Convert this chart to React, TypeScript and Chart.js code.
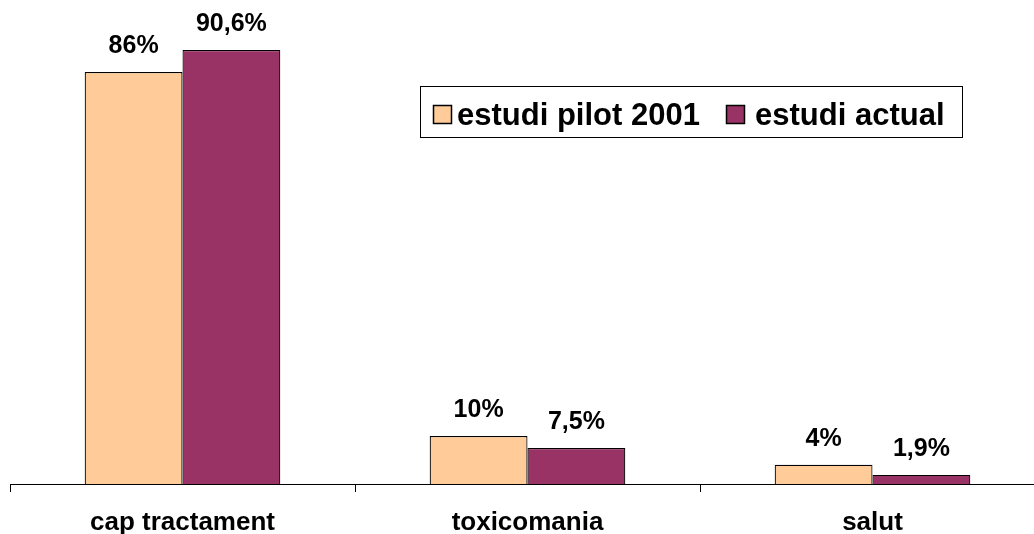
import React, { useEffect, useRef } from "react";
import { Chart, registerables } from "chart.js";

Chart.register(...registerables);

const categories = ["cap tractament", "toxicomania", "salut"];
const seriesNames = ["estudi pilot 2001", "estudi actual"];
const pilot2001 = [86, 10, 4];
const actual = [90.6, 7.5, 1.9];
const pilotLabels = ["86%", "10%", "4%"];
const actualLabels = ["90,6%", "7,5%", "1,9%"];
const colors = ["#FFCC99", "#993366"];

const FONT = "'Liberation Sans', Arial, sans-serif";

const overlayPlugin = {
  id: "overlay",
  afterDraw(chart: any) {
    const ctx = chart.ctx;
    const xScale = chart.scales.x;
    ctx.save();
    // data labels
    const labelSets = [pilotLabels, actualLabels];
    chart.data.datasets.forEach((ds: any, di: number) => {
      const meta = chart.getDatasetMeta(di);
      meta.data.forEach((bar: any, i: number) => {
        ctx.font = `bold 25px ${FONT}`;
        ctx.fillStyle = "#000";
        ctx.textAlign = "center";
        ctx.textBaseline = "alphabetic";
        ctx.fillText(labelSets[di][i], bar.x, bar.y - 19);
      });
    });
    // category labels
    categories.forEach((c, i) => {
      const x = xScale.getPixelForValue(i);
      ctx.font = `bold 26px ${FONT}`;
      ctx.fillStyle = "#000";
      ctx.textAlign = "center";
      ctx.textBaseline = "alphabetic";
      ctx.fillText(c, x, 530);
    });
    // legend
    ctx.fillStyle = "#fff";
    ctx.fillRect(420.5, 86.5, 542, 51);
    ctx.strokeStyle = "#000";
    ctx.lineWidth = 1;
    ctx.strokeRect(420.5, 86.5, 542, 51);
    const items = [
      { x: 433, tx: 457 },
      { x: 726, tx: 755 },
    ];
    items.forEach((it, i) => {
      ctx.fillStyle = colors[i];
      ctx.fillRect(it.x + 0.5, 105.5, 18, 18);
      ctx.strokeStyle = "#000";
      ctx.lineWidth = 1.5;
      ctx.strokeRect(it.x + 0.5, 105.5, 18, 18);
      ctx.font = `bold 31px ${FONT}`;
      ctx.fillStyle = "#000";
      ctx.textAlign = "left";
      ctx.textBaseline = "alphabetic";
      ctx.fillText(seriesNames[i], it.tx, 125);
    });
    ctx.restore();
  },
};

export default function App() {
  const canvasRef = useRef<HTMLCanvasElement | null>(null);

  useEffect(() => {
    if (!canvasRef.current) return;
    const chart = new Chart(canvasRef.current, {
      type: "bar",
      data: {
        labels: categories,
        datasets: [
          {
            label: seriesNames[0],
            data: pilot2001,
            backgroundColor: colors[0],
            borderColor: "#000",
            borderWidth: 1.2,
          },
          {
            label: seriesNames[1],
            data: actual,
            backgroundColor: colors[1],
            borderColor: "#000",
            borderWidth: 1.2,
          },
        ],
      },
      options: {
        responsive: false,
        animation: false,
        layout: { padding: { top: 5, left: 10, right: 0, bottom: 0 } },
        datasets: {
          bar: { categoryPercentage: 0.567, barPercentage: 1 },
        },
        plugins: {
          legend: { display: false },
          tooltip: { enabled: false },
        },
        scales: {
          x: {
            grid: {
              display: true,
              drawOnChartArea: false,
              drawTicks: true,
              tickLength: 8,
              color: "#000",
              lineWidth: 1,
              offset: true,
            },
            border: { display: true, color: "#000", width: 1 },
            ticks: { display: false },
            afterFit(scale: any) {
              scale.height = 50;
            },
          },
          y: {
            display: false,
            min: 0,
            max: 100,
          },
        },
      },
      plugins: [overlayPlugin],
    });
    return () => chart.destroy();
  }, []);

  return (
    <div
      style={{
        position: "fixed",
        left: 0,
        top: 0,
        width: 1034,
        height: 534,
        overflow: "hidden",
        background: "#fff",
      }}
    >
      <canvas
        ref={canvasRef}
        width={1045}
        height={534}
        style={{ display: "block", width: 1045, height: 534 }}
      />
    </div>
  );
}
